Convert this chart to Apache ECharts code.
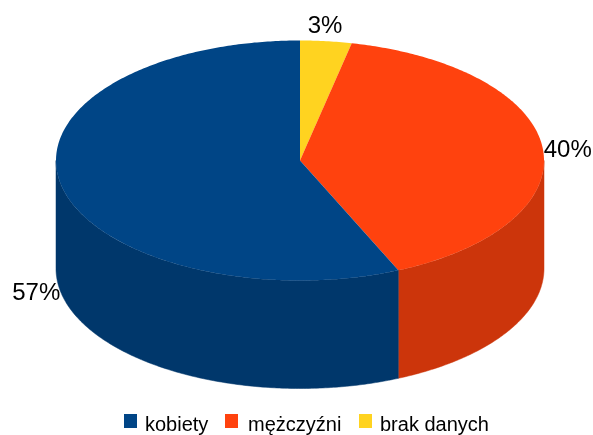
<!DOCTYPE html>
<html><head><meta charset="utf-8">
<style>html,body{margin:0;padding:0;background:#fff}#c{width:593px;height:435px}</style>
<script src="https://cdn.jsdelivr.net/npm/echarts@6/dist/echarts.min.js"></script>
</head><body><div id="c"></div>
<script>
// Slices, clockwise from 12 o'clock
const categories = ['brak danych', 'mężczyźni', 'kobiety'];
const values = [3.4, 40.0, 56.6];
const topColors = ['#ffd320', '#ff420e', '#004586'];
const sideColors = ['#cca91a', '#cc350b', '#00376b'];
const legendOrder = ['kobiety', 'mężczyźni', 'brak danych'];
const legendLeft = [119, 220, 354];
const legendTextGap = [3, 5, 3];

const CX = 300, CY = 160.5, RX = 244, RY = 120, DEPTH = 108;
const total = values.reduce((a, b) => a + b, 0);
const startOf = i => values.slice(0, i).reduce((a, b) => a + b, 0) / total * Math.PI * 2;
const px = t => CX + RX * Math.sin(t);
const py = t => CY - RY * Math.cos(t);
const arc = (a, b, dy) => {
  const n = Math.max(2, Math.ceil((b - a) * 90)), out = [];
  for (let k = 0; k <= n; k++) {
    const t = a + (b - a) * k / n;
    out.push([px(t), py(t) + dy]);
  }
  return out;
};
// label placement relative to the slice's mid-angle on the rim
const labelAnchor = [
  { dx: -1, dy: -3, align: 'center', verticalAlign: 'bottom' },
  { dx: 1, dy: 2, align: 'left', verticalAlign: 'middle' },
  { dx: -1, dy: DEPTH, align: 'right', verticalAlign: 'middle' }
];

function renderSlice(params, api) {
  const i = params.seriesIndex;
  const a = startOf(i), b = a + api.value(0) / total * Math.PI * 2;
  const children = [];
  // front wall: the part of the slice between 90° and 270°
  const fa = Math.max(a, Math.PI / 2), fb = Math.min(b, Math.PI * 1.5);
  if (fb > fa) {
    children.push({
      type: 'polygon',
      shape: { points: arc(fa, fb, 0).concat(arc(fa, fb, DEPTH).reverse()) },
      style: { fill: sideColors[i], stroke: sideColors[i], lineWidth: 0.5 }
    });
  }
  children.push({
    type: 'polygon',
    shape: { points: [[CX, CY]].concat(arc(a, b, 0)) },
    style: { fill: topColors[i] }
  });
  const m = (a + b) / 2, an = labelAnchor[i];
  children.push({
    type: 'text',
    z2: 10,
    style: {
      x: px(m) + an.dx, y: py(m) + an.dy,
      text: Math.round(api.value(0) / total * 100) + '%',
      fill: '#000', font: '24px "Liberation Sans", Arial, sans-serif',
      align: an.align, verticalAlign: an.verticalAlign
    }
  });
  return { type: 'group', children };
}

const chart = echarts.init(document.getElementById('c'), null, { renderer: 'canvas' });
chart.setOption({
  animation: false,
  backgroundColor: '#fff',
  legend: legendOrder.map((name, i) => ({
    data: [name],
    left: legendLeft[i], top: 409,
    itemWidth: 13, itemHeight: 22,
    // square in the upper part of a taller icon box, so the text sits lower than the swatch
    icon: 'path://M0 0H13V14H0Z M0 22L0 22Z',
    textStyle: { fontFamily: '"Liberation Sans", Arial, sans-serif', fontSize: 20, color: '#000', padding: [0, 0, 0, legendTextGap[i]] }
  })),
  series: categories.map((name, i) => ({
    type: 'custom',
    name,
    coordinateSystem: 'none',
    renderItem: renderSlice,
    itemStyle: { color: topColors[i] },
    data: [[values[i]]]
  }))
});
</script></body></html>
